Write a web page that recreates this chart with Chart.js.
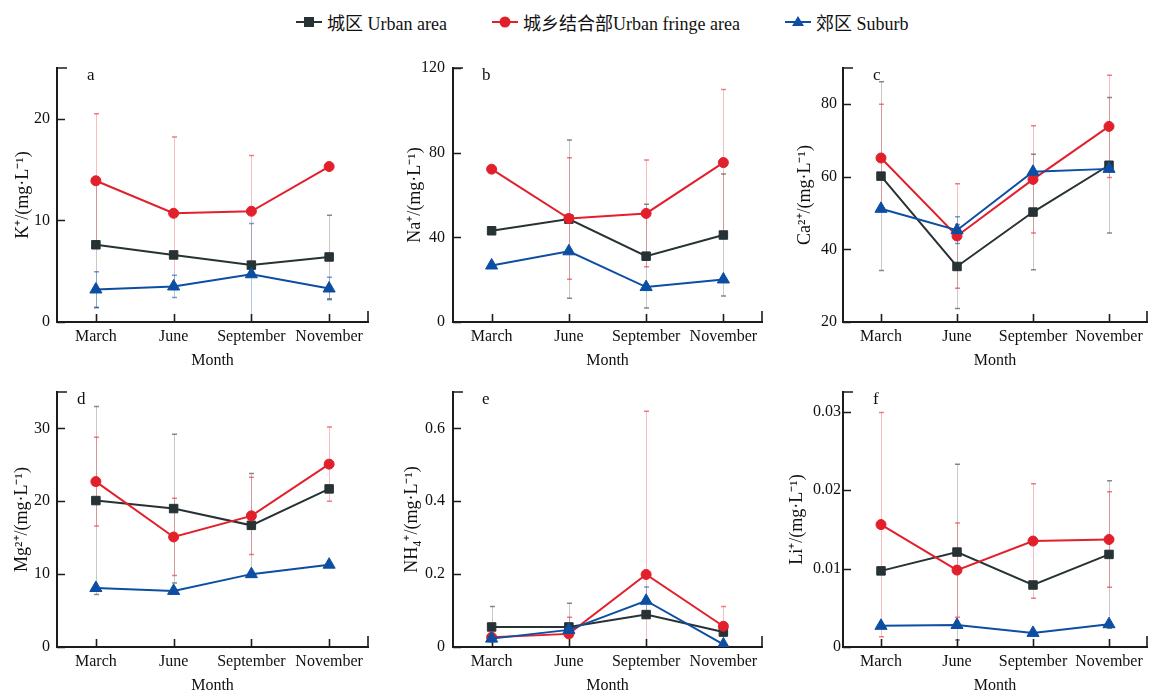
<!DOCTYPE html>
<html lang="zh">
<head>
  <meta charset="UTF-8">
  <title>Ion concentrations by month</title>
  <script src="https://cdn.jsdelivr.net/npm/chart.js"></script>
  <style>
    body {
      margin: 0;
      width: 1155px;
      height: 692px;
      overflow: hidden;
      background: #fff;
      position: relative;
      font-family: "Liberation Serif", "Noto Sans CJK SC", serif;
    }
    .item {
      position: absolute;
      top: 10px;
      height: 24px;
      display: flex;
      align-items: center;
      font-size: 18px;
      color: #111;
      white-space: nowrap;
    }
    .key {
      position: relative;
      width: 26px;
      height: 24px;
      margin-right: 5px;
    }
    .key::before {
      content: '';
      position: absolute;
      left: 0;
      right: 0;
      top: 11px;
      height: 2px;
      background: var(--c);
    }
    .mk {
      position: absolute;
      left: 50%;
      top: 12px;
      transform: translate(-50%, -50%);
    }
    .sq { width: 10px; height: 10px; background: var(--c); }
    .ci { width: 11px; height: 11px; border-radius: 50%; background: var(--c); }
    .tr {
      width: 0; height: 0;
      border-left: 6px solid transparent;
      border-right: 6px solid transparent;
      border-bottom: 10px solid var(--c);
      margin-top: -1px;
    }
    canvas { position: absolute; }
  </style>
</head>
<body>
  <div class="item" style="left:296px; --c:#273235">
    <span class="key"><span class="mk sq"></span></span>城区 Urban area
  </div>
  <div class="item" style="left:492px; --c:#e2202c">
    <span class="key"><span class="mk ci"></span></span>城乡结合部Urban fringe area
  </div>
  <div class="item" style="left:785px; --c:#0c4ea2">
    <span class="key"><span class="mk tr"></span></span>郊区 Suburb
  </div>

  <canvas id="pa" width="385" height="325" style="left:0px; top:45px"></canvas>
  <canvas id="pb" width="385" height="325" style="left:396px; top:45px"></canvas>
  <canvas id="pc" width="369" height="325" style="left:786px; top:45px"></canvas>
  <canvas id="pd" width="385" height="325" style="left:0px; top:370px"></canvas>
  <canvas id="pe" width="385" height="325" style="left:396px; top:370px"></canvas>
  <canvas id="pf" width="369" height="325" style="left:786px; top:370px"></canvas>

  <script>
    const months = ['March', 'June', 'September', 'November'];

    // a: K+
    const kUrban = [7.6, 6.6, 5.6, 6.4];
    const kUrbanSd = [6.2, 0, 0, 4.1];
    const kFringe = [13.9, 10.7, 10.9, 15.3];
    const kFringeSd = [6.6, 7.5, 5.5, 0];
    const kSuburb = [3.2, 3.5, 4.7, 3.3];
    const kSuburbSd = [1.75, 1.1, 5.0, 1.1];

    // b: Na+
    const naUrban = [43.1, 48.6, 31.1, 41.1];
    const naUrbanSd = [0, 37.4, 24.5, 28.8];
    const naFringe = [72.2, 48.9, 51.3, 75.3];
    const naFringeSd = [0, 28.7, 25.2, 34.5];
    const naSuburb = [26.7, 33.4, 16.5, 20.1];
    const naSuburbSd = [0, 0, 1.5, 0];

    // c: Ca2+
    const caUrban = [60.2, 35.3, 50.3, 63.2];
    const caUrbanSd = [26.0, 11.6, 15.9, 18.7];
    const caFringe = [65.2, 43.7, 59.3, 73.9];
    const caFringeSd = [14.8, 14.4, 14.8, 14.1];
    const caSuburb = [51.2, 45.3, 61.4, 62.2];
    const caSuburbSd = [0, 3.7, 0, 0];

    // d: Mg2+
    const mgUrban = [20.1, 19.0, 16.7, 21.7];
    const mgUrbanSd = [12.9, 10.2, 7.1, 0];
    const mgFringe = [22.7, 15.1, 18.0, 25.1];
    const mgFringeSd = [6.1, 5.3, 5.3, 5.1];
    const mgSuburb = [8.1, 7.7, 10.0, 11.3];
    const mgSuburbSd = [0, 0, 0, 0];

    // e: NH4+
    const nhUrban = [0.055, 0.055, 0.089, 0.041];
    const nhUrbanSd = [0.056, 0.065, 0, 0];
    const nhFringe = [0.027, 0.036, 0.199, 0.057];
    const nhFringeSd = [0, 0.046, 0.448, 0.054];
    const nhSuburb = [0.023, 0.047, 0.127, 0.007];
    const nhSuburbSd = [0, 0, 0.038, 0];

    // f: Li+
    const liUrban = [0.0097, 0.0121, 0.0079, 0.0118];
    const liUrbanSd = [0, 0.0112, 0, 0.0094];
    const liFringe = [0.0156, 0.0098, 0.0135, 0.0137];
    const liFringeSd = [0.0143, 0.006, 0.0073, 0.0061];
    const liSuburb = [0.0027, 0.0028, 0.0018, 0.0029];
    const liSuburbSd = [0, 0, 0, 0];

    const serif = '"Liberation Serif", "Times New Roman", serif';
    const ink = '#111';
    const axisColor = '#1c1c1c';
    const colors = {
      urban: { line: '#273235', err: 'rgba(60,60,60,0.28)', cap: 'rgba(60,60,60,0.6)' },
      fringe: { line: '#e2202c', err: 'rgba(230,40,50,0.3)', cap: 'rgba(230,40,50,0.6)' },
      suburb: { line: '#0c4ea2', err: 'rgba(20,90,180,0.32)', cap: 'rgba(20,90,180,0.6)' }
    };

    // error bars behind the lines, inward ticks and panel letter
    const panelMarks = {
      id: 'panelMarks',
      beforeDatasetsDraw(chart, args, opts) {
        const { ctx, chartArea: a, scales: { x, y } } = chart;
        ctx.save();
        ctx.beginPath();
        ctx.rect(a.left, a.top, a.right - a.left, a.bottom - a.top);
        ctx.clip();
        chart.data.datasets.forEach(ds => {
          ds.errors.forEach((e, j) => {
            if (!e) return;
            const px = Math.round(x.getPixelForValue(j)) + 0.5;
            const top = y.getPixelForValue(ds.data[j] + e);
            const bot = y.getPixelForValue(ds.data[j] - e);
            ctx.lineWidth = 1;
            ctx.strokeStyle = ds.errorColor;
            ctx.beginPath();
            ctx.moveTo(px, top);
            ctx.lineTo(px, bot);
            ctx.stroke();
            ctx.strokeStyle = ds.capColor;
            ctx.lineWidth = 1.5;
            ctx.beginPath();
            ctx.moveTo(px - 2.5, top);
            ctx.lineTo(px + 2.5, top);
            ctx.moveTo(px - 2.5, bot);
            ctx.lineTo(px + 2.5, bot);
            ctx.stroke();
          });
        });
        ctx.restore();

        ctx.save();
        ctx.strokeStyle = axisColor;
        ctx.lineWidth = 1.6;
        ctx.beginPath();
        x.ticks.forEach((t, i) => {
          const px = Math.round(x.getPixelForTick(i)) + 0.5;
          ctx.moveTo(px, a.bottom);
          ctx.lineTo(px, a.bottom - 8);
        });
        ctx.moveTo(a.right, a.bottom);
        ctx.lineTo(a.right, a.bottom - 11);
        y.ticks.forEach((t, i) => {
          const py = Math.round(y.getPixelForTick(i)) + 0.5;
          ctx.moveTo(a.left, py);
          ctx.lineTo(a.left + 8, py);
        });
        ctx.moveTo(a.left, a.top);
        ctx.lineTo(a.left + 10, a.top);
        ctx.stroke();

        ctx.fillStyle = ink;
        ctx.font = '17px ' + serif;
        ctx.textBaseline = 'top';
        ctx.fillText(opts.letter, a.left + opts.letterX, a.top - 1);
        ctx.restore();
      }
    };

    function series(label, data, errors, c, style, radius, order) {
      return {
        label,
        data,
        errors,
        errorColor: c.err,
        capColor: c.cap,
        borderColor: c.line,
        backgroundColor: c.line,
        pointBackgroundColor: c.line,
        pointBorderColor: c.line,
        pointBorderWidth: 1,
        pointStyle: style,
        pointRadius: radius,
        borderWidth: 2,
        tension: 0,
        fill: false,
        order
      };
    }

    const panels = [
      { id: 'pa', letter: 'a', title: 'K⁺/(mg·L⁻¹)', min: 0, max: 25, step: 10,
        u: [kUrban, kUrbanSd], r: [kFringe, kFringeSd], s: [kSuburb, kSuburbSd],
        padTop: 23, padRight: 17, titlePad: 12, tickPad: 7, letterX: 30 },
      { id: 'pb', letter: 'b', title: 'Na⁺/(mg·L⁻¹)', min: 0, max: 120, step: 40,
        u: [naUrban, naUrbanSd], r: [naFringe, naFringeSd], s: [naSuburb, naSuburbSd],
        padTop: 23, padRight: 19, titlePad: 8, tickPad: 8, letterX: 29 },
      { id: 'pc', letter: 'c', title: 'Ca²⁺/(mg·L⁻¹)', min: 20, max: 90, step: 20,
        u: [caUrban, caUrbanSd], r: [caFringe, caFringeSd], s: [caSuburb, caSuburbSd],
        padTop: 23, padRight: 3, titlePad: 8, tickPad: 6, letterX: 30 },
      { id: 'pd', letter: 'd', title: 'Mg²⁺/(mg·L⁻¹)', min: 0, max: 35, step: 10,
        u: [mgUrban, mgUrbanSd], r: [mgFringe, mgFringeSd], s: [mgSuburb, mgSuburbSd],
        padTop: 22, padRight: 17, titlePad: 11, tickPad: 7, letterX: 20 },
      { id: 'pe', letter: 'e', title: 'NH₄⁺/(mg·L⁻¹)', min: 0, max: 0.7, step: 0.2,
        u: [nhUrban, nhUrbanSd], r: [nhFringe, nhFringeSd], s: [nhSuburb, nhSuburbSd],
        padTop: 22, padRight: 19, titlePad: 5, tickPad: 8, letterX: 29 },
      { id: 'pf', letter: 'f', title: 'Li⁺/(mg·L⁻¹)', min: 0, max: 0.0325, step: 0.01,
        u: [liUrban, liUrbanSd], r: [liFringe, liFringeSd], s: [liSuburb, liSuburbSd],
        padTop: 22, padRight: 3, titlePad: 0, tickPad: 2, letterX: 30 }
    ];

    const tickFont = { family: serif, size: 16 };

    panels.forEach(p => {
      new Chart(document.getElementById(p.id), {
        type: 'line',
        data: {
          labels: months,
          datasets: [
            series('城区 Urban area', p.u[0], p.u[1], colors.urban, 'rect', 6, 3),
            series('城乡结合部Urban fringe area', p.r[0], p.r[1], colors.fringe, 'circle', 5, 2),
            series('郊区 Suburb', p.s[0], p.s[1], colors.suburb, 'triangle', 7, 1)
          ]
        },
        options: {
          responsive: false,
          animation: false,
          events: [],
          layout: { padding: { top: p.padTop, right: p.padRight, left: 0, bottom: 0 } },
          plugins: {
            legend: { display: false },
            tooltip: { enabled: false },
            panelMarks: { letter: p.letter, letterX: p.letterX }
          },
          scales: {
            x: {
              offset: true,
              grid: { display: false, drawTicks: false },
              border: { display: true, color: axisColor, width: 2 },
              ticks: { color: ink, font: tickFont, padding: 5, maxRotation: 0, autoSkip: false },
              title: { display: true, text: 'Month', color: ink, font: tickFont, padding: { top: 0, bottom: 0 } },
              afterFit(s) { s.height = 48; }
            },
            y: {
              min: p.min,
              max: p.max,
              grid: { display: false, drawTicks: false },
              border: { display: true, color: axisColor, width: 2 },
              ticks: { stepSize: p.step, includeBounds: false, color: ink, font: tickFont, padding: p.tickPad },
              title: { display: true, text: p.title, color: ink, font: { family: serif, size: 18 },
                       padding: { top: p.titlePad, bottom: 0 } },
              afterFit(s) { s.width = 57; }
            }
          }
        },
        plugins: [panelMarks]
      });
    });
  </script>
</body>
</html>
